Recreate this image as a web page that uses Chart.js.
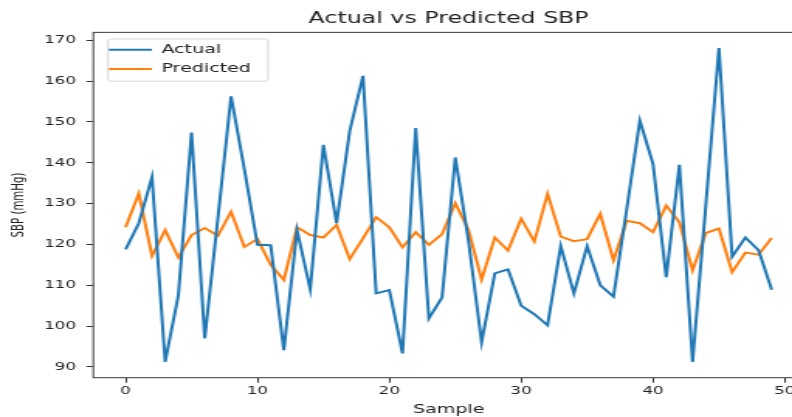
<!DOCTYPE html>
<html>
<head>
<meta charset="utf-8">
<script src="https://cdn.jsdelivr.net/npm/chart.js@4.4.1/dist/chart.umd.min.js"></script>
<style>
    html, body { margin: 0; padding: 0; background: #fff; overflow: hidden; }
    #frame { width: 792px; height: 417px; overflow: hidden; position: relative; }
    /* the source figure is stretched sideways, so the whole canvas is too */
    #stretch { transform: scaleX(1.55); transform-origin: 0 0; width: 522px; height: 417px; }
</style>
</head>
<body>
<div id="frame">
    <div id="stretch">
        <canvas id="sbpChart" width="522" height="417"></canvas>
    </div>
</div>
<script>
const samples = [0, 1, 2, 3, 4, 5, 6, 7, 8, 9, 10, 11, 12, 13, 14, 15, 16, 17, 18, 19,
    20, 21, 22, 23, 24, 25, 26, 27, 28, 29, 30, 31, 32, 33, 34, 35, 36, 37, 38, 39,
    40, 41, 42, 43, 44, 45, 46, 47, 48, 49];

const actualSBP = [118.8, 125.2, 136.5, 91.2, 107.6, 147.4, 97.0, 126.5, 156.3, 138.5,
    119.9, 119.8, 94.1, 123.5, 109.0, 144.4, 125.2, 147.8, 161.3, 108.0,
    108.8, 93.3, 148.5, 101.9, 107.0, 141.3, 121.0, 96.1, 112.9, 113.9,
    105.0, 102.9, 100.2, 119.6, 108.0, 119.6, 110.0, 107.2, 128.5, 150.3,
    139.7, 112.0, 139.5, 91.2, 129.5, 168.1, 117.0, 121.7, 118.6, 108.9];

const predictedSBP = [124.2, 132.5, 117.2, 123.5, 116.8, 122.3, 124.0, 122.1, 128.0, 119.4,
    121.3, 115.0, 111.3, 124.2, 122.3, 121.7, 124.8, 116.4, 121.5, 126.7,
    124.2, 119.3, 123.0, 119.9, 122.5, 130.1, 123.6, 111.4, 121.7, 118.5,
    126.3, 120.7, 132.4, 121.9, 120.8, 121.3, 127.5, 116.1, 125.8, 125.2,
    123.0, 129.5, 125.4, 113.6, 122.8, 123.9, 113.2, 118.0, 117.5, 121.6];

const xTicks = [0, 10, 20, 30, 40, 50];
const yTicks = [90, 100, 110, 120, 130, 140, 150, 160, 170];

const FONT = "'DejaVu Sans', sans-serif";
const INK = '#222';

// box round the plot plus the legend frame, like matplotlib
const frameBox = {
    id: 'frameBox',
    afterLayout(chart) {
        const lg = chart.legend;
        const area = chart.chartArea;
        // park the legend in the upper left corner of the plot
        const dx = area.left + 3.1 - lg.left;
        const dy = area.top + 4.2 - lg.top;
        lg.left += dx; lg.right += dx; lg.top += dy; lg.bottom += dy;
        lg.legendHitBoxes.forEach(h => { h.left += dx; h.top += dy; });
    },
    beforeDraw(chart) {
        const boxes = chart.legend.legendHitBoxes;
        if (!boxes.length) return;
        const ctx = chart.ctx;
        const l = Math.min(...boxes.map(b => b.left)) - 3.7;
        const t = Math.min(...boxes.map(b => b.top)) - 4.6;
        const r = Math.max(...boxes.map(b => b.left + b.width)) + 8;
        const b = Math.max(...boxes.map(b => b.top + b.height)) + 6;
        ctx.save();
        ctx.beginPath();
        ctx.roundRect(l, t, r - l, b - t, 2);
        ctx.fillStyle = 'rgba(255,255,255,0.8)';
        ctx.fill();
        ctx.strokeStyle = '#d6d6d6';
        ctx.lineWidth = 1;
        ctx.stroke();
        ctx.restore();
    },
    afterDraw(chart) {
        const {ctx, chartArea: a} = chart;
        ctx.save();
        ctx.strokeStyle = '#3a3a3a';
        ctx.lineWidth = 1;
        ctx.strokeRect(a.left, a.top, a.right - a.left, a.bottom - a.top);
        ctx.restore();
    }
};

const ctx = document.getElementById('sbpChart');

new Chart(ctx, {
    type: 'line',
    data: {
        datasets: [{
            label: 'Actual',
            data: samples.map((s, i) => ({x: s, y: actualSBP[i]})),
            borderColor: '#1f77b4',
            backgroundColor: '#1f77b4',
            borderWidth: 2,
            pointRadius: 0,
            tension: 0
        }, {
            label: 'Predicted',
            data: samples.map((s, i) => ({x: s, y: predictedSBP[i]})),
            borderColor: '#ff7f0e',
            backgroundColor: '#ff7f0e',
            borderWidth: 2,
            pointRadius: 0,
            tension: 0
        }]
    },
    options: {
        responsive: false,
        animation: false,
        devicePixelRatio: 1,
        layout: {
            padding: { left: 0, right: 3.3, top: 0, bottom: 0 }
        },
        plugins: {
            title: {
                display: true,
                text: 'Actual vs Predicted SBP',
                fullSize: false,
                color: INK,
                font: { family: FONT, size: 15.3, weight: 'normal' },
                padding: { top: 10, bottom: 4 }
            },
            legend: {
                position: 'chartArea',
                align: 'start',
                labels: {
                    color: INK,
                    font: { family: FONT, size: 12.3 },
                    usePointStyle: true,
                    pointStyle: 'line',
                    pointStyleWidth: 27.7,
                    padding: 7
                }
            },
            tooltip: { enabled: false }
        },
        scales: {
            x: {
                type: 'linear',
                min: -2.45,
                max: 51.45,
                afterBuildTicks: scale => { scale.ticks = xTicks.map(v => ({value: v})); },
                afterFit: scale => { scale.height = 39.3; },
                grid: {
                    display: true,
                    drawOnChartArea: false,
                    drawTicks: true,
                    tickLength: 5,
                    tickColor: '#333',
                    tickWidth: 1
                },
                border: { display: false },
                ticks: {
                    color: INK,
                    font: { family: FONT, size: 10.8 },
                    padding: 2,
                    maxRotation: 0
                },
                title: {
                    display: true,
                    text: 'Sample',
                    color: INK,
                    font: { family: FONT, size: 12.3 },
                    padding: { top: 0, bottom: 0 }
                }
            },
            y: {
                type: 'linear',
                min: 87.35,
                max: 171.95,
                afterBuildTicks: scale => { scale.ticks = yTicks.map(v => ({value: v})); },
                afterFit: scale => { scale.width = 60.2; },
                grid: {
                    display: true,
                    drawOnChartArea: false,
                    drawTicks: true,
                    tickLength: 4.5,
                    tickColor: '#333',
                    tickWidth: 1
                },
                border: { display: false },
                ticks: {
                    color: INK,
                    font: { family: FONT, size: 10.8 },
                    padding: 6.7
                },
                title: {
                    display: true,
                    text: 'SBP (mmHg)',
                    color: INK,
                    font: { family: FONT, size: 10.2 },
                    padding: { top: 6, bottom: 0 }
                }
            }
        }
    },
    plugins: [frameBox]
});
</script>
</body>
</html>
